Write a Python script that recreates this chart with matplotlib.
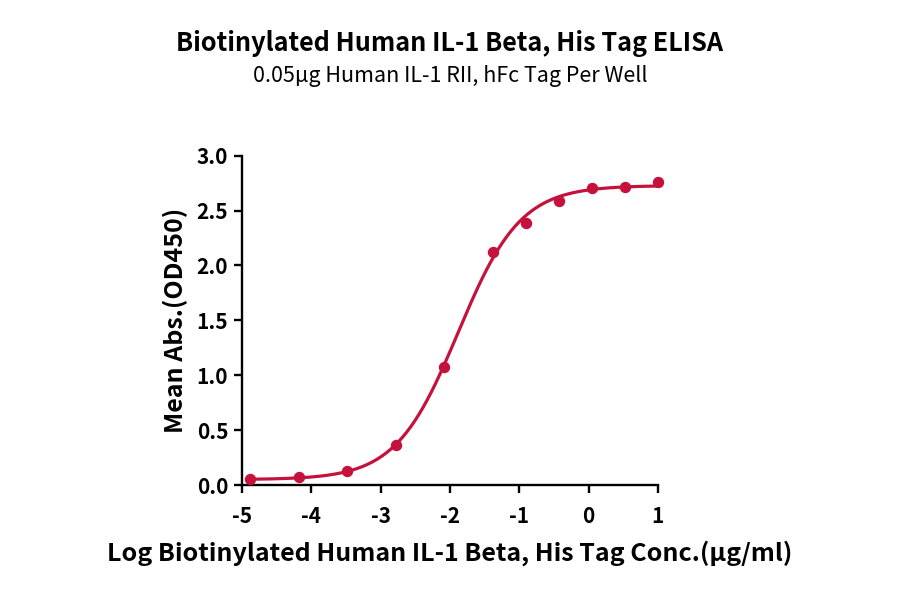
import numpy as np
import matplotlib
matplotlib.use("Agg")
import matplotlib.pyplot as plt

plt.rcParams['font.family'] = ['Noto Sans CJK SC', 'DejaVu Sans']

# Data
log_conc = [1.0, 0.523, 0.046, -0.431, -0.908, -1.385, -2.084, -2.783, -3.482, -4.181, -4.880]
od450 = [2.757, 2.717, 2.708, 2.589, 2.389, 2.125, 1.077, 0.362, 0.128, 0.070, 0.052]
x_ticks = [-5, -4, -3, -2, -1, 0, 1]
y_ticks = [0.0, 0.5, 1.0, 1.5, 2.0, 2.5, 3.0]

title = "Biotinylated Human IL-1 Beta, His Tag ELISA"
subtitle = "0.05μg Human IL-1 RII, hFc Tag Per Well"
xlabel = "Log Biotinylated Human IL-1 Beta, His Tag Conc.(μg/ml)"
ylabel = "Mean Abs.(OD450)"
color = "#C5123D"

x = np.array(log_conc)
y = np.array(od450)

# 4PL fit (Levenberg-Marquardt, numpy only)
def f(p, xx):
    b, t, c, h = p
    return b + (t - b) / (1 + 10 ** ((c - xx) * h))

def jac(p, xx, eps=1e-6):
    J = np.zeros((len(xx), len(p)))
    for i in range(len(p)):
        dp = np.array(p, float); dp[i] += eps
        J[:, i] = (f(dp, xx) - f(p, xx)) / eps
    return J

p = np.array([y.min(), y.max(), -2.0, 1.0])
lam = 1e-2
for _ in range(500):
    r = y - f(p, x)
    J = jac(p, x)
    A = J.T @ J
    g = J.T @ r
    step = np.linalg.solve(A + lam * np.diag(np.diag(A)), g)
    pn = p + step
    if np.sum((y - f(pn, x)) ** 2) < np.sum(r ** 2):
        p = pn; lam *= 0.5
    else:
        lam *= 2

xs = np.linspace(x.min(), x.max(), 400)

fig = plt.figure(figsize=(9, 5.94), dpi=100)
ax = fig.add_axes([0.269, 0.1835, 0.462, 0.5545])
ax.plot(xs, f(p, xs), color=color, lw=2.3, zorder=2)
ax.plot(x, y, 'o', color=color, ms=7.2, zorder=3, clip_on=False)

ax.set_xlim(-5, 1)
ax.set_ylim(0, 3)
ax.set_xticks(x_ticks)
ax.set_yticks(y_ticks)
ax.set_xticklabels([str(v) for v in x_ticks])
ax.set_yticklabels([f"{v:.1f}" for v in y_ticks])
for s in ['top', 'right']:
    ax.spines[s].set_visible(False)
for s in ['left', 'bottom']:
    ax.spines[s].set_linewidth(1.7)
ax.tick_params(width=1.7, length=6, labelsize=15)
ax.tick_params(axis='x', pad=9)
ax.tick_params(axis='y', pad=4)
for lab in ax.get_xticklabels() + ax.get_yticklabels():
    lab.set_fontweight('bold')

ax.set_xlabel(xlabel, fontsize=18, fontweight='bold', labelpad=10)
ax.set_ylabel(ylabel, fontsize=18, fontweight='bold', labelpad=6)

fig.text(0.5, 0.927, title, ha='center', va='center', fontsize=18.2, fontweight='bold')
fig.text(0.5, 0.872, subtitle, ha='center', va='center', fontsize=15.5)

fig.savefig("out.png", dpi=100)
